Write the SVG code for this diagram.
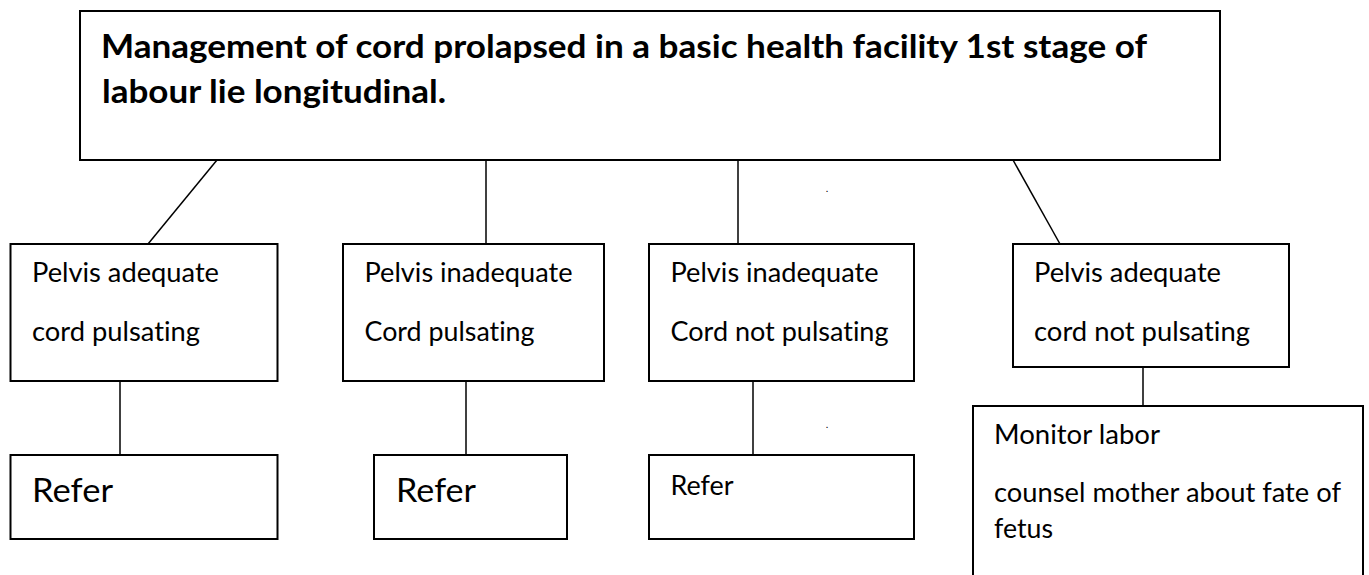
<svg xmlns="http://www.w3.org/2000/svg" width="1369" height="575" viewBox="0 0 1369 575">
<style>
  .box { fill: #ffffff; stroke: #000000; stroke-width: 2; }
  .conn line { stroke: #000000; stroke-width: 1.5; fill: none; }
  .t { font-family: Lato, "Liberation Sans", Arial, sans-serif; fill: #000000; font-variant-ligatures: none; }
  .title { font-size: 33px; font-weight: bold; }
  .body { font-size: 26px; }
  .big { font-size: 33px; }
  .dot { font-family: "Liberation Sans", Arial, sans-serif; font-size: 11px; fill: #000000; }
</style>
<rect x="0" y="0" width="1369" height="575" fill="#ffffff"/>

<g id="connectors" class="conn">
  <line x1="217" y1="160" x2="148" y2="244"/>
  <line x1="486" y1="160" x2="486" y2="244"/>
  <line x1="738" y1="160" x2="738" y2="244"/>
  <line x1="1013" y1="160" x2="1060" y2="244"/>
  <line x1="120" y1="381" x2="120" y2="455"/>
  <line x1="466" y1="381" x2="466" y2="455"/>
  <line x1="753" y1="381" x2="753" y2="455"/>
  <line x1="1143" y1="367" x2="1143" y2="406"/>
</g>

<g id="title">
  <rect class="box" x="80" y="11" width="1140" height="149"/>
  <text class="t title" x="101" y="58" textLength="1046" lengthAdjust="spacingAndGlyphs">Management of cord prolapsed in a basic health facility 1st stage of</text>
  <text class="t title" x="102" y="102.5" textLength="344" lengthAdjust="spacingAndGlyphs">labour lie longitudinal.</text>
</g>

<g id="n1">
  <rect class="box" x="10.5" y="244" width="267" height="137"/>
  <text class="t body" x="32" y="282" textLength="187" lengthAdjust="spacingAndGlyphs">Pelvis adequate</text>
  <text class="t body" x="32" y="341" textLength="168" lengthAdjust="spacingAndGlyphs">cord pulsating</text>
</g>

<g id="n2">
  <rect class="box" x="343" y="244" width="261" height="137"/>
  <text class="t body" x="364.5" y="282" textLength="208" lengthAdjust="spacingAndGlyphs">Pelvis inadequate</text>
  <text class="t body" x="364.5" y="341" textLength="170" lengthAdjust="spacingAndGlyphs">Cord pulsating</text>
</g>

<g id="n3">
  <rect class="box" x="649" y="244" width="265" height="137"/>
  <text class="t body" x="670.5" y="282" textLength="208" lengthAdjust="spacingAndGlyphs">Pelvis inadequate</text>
  <text class="t body" x="670.5" y="341" textLength="218" lengthAdjust="spacingAndGlyphs">Cord not pulsating</text>
</g>

<g id="n4">
  <rect class="box" x="1013" y="244" width="276" height="123"/>
  <text class="t body" x="1034" y="282" textLength="187" lengthAdjust="spacingAndGlyphs">Pelvis adequate</text>
  <text class="t body" x="1034" y="341" textLength="216" lengthAdjust="spacingAndGlyphs">cord not pulsating</text>
</g>

<g id="r1">
  <rect class="box" x="10.5" y="455" width="267" height="84"/>
  <text class="t big" x="32" y="501.5" textLength="81" lengthAdjust="spacingAndGlyphs">Refer</text>
</g>

<g id="r2">
  <rect class="box" x="374" y="455" width="193" height="84"/>
  <text class="t big" x="396" y="501.5" textLength="80" lengthAdjust="spacingAndGlyphs">Refer</text>
</g>

<g id="r3">
  <rect class="box" x="649" y="455" width="265" height="84"/>
  <text class="t body" x="670.5" y="495" textLength="63" lengthAdjust="spacingAndGlyphs">Refer</text>
</g>

<g id="r4">
  <rect class="box" x="973" y="406" width="390" height="200"/>
  <text class="t body" x="994" y="443.5" textLength="166" lengthAdjust="spacingAndGlyphs">Monitor labor</text>
  <text class="t body" x="994" y="501.5" textLength="347" lengthAdjust="spacingAndGlyphs">counsel mother about fate of</text>
  <text class="t body" x="994" y="537.5" textLength="59" lengthAdjust="spacingAndGlyphs">fetus</text>
</g>

<g id="marks">
  <text class="dot" x="825.5" y="192">.</text>
  <text class="dot" x="825.5" y="428">.</text>
</g>
</svg>
